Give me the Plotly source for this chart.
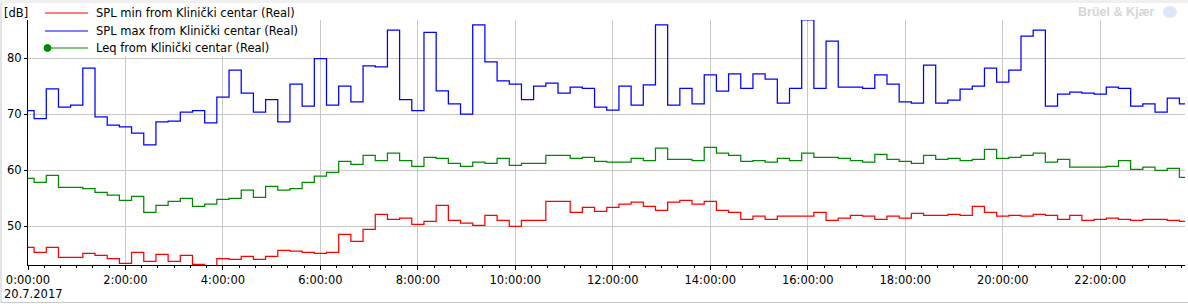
import plotly.graph_objects as go
import pandas as pd

# ---------------- data (15-minute intervals) ----------------
SPL_MAX = [70.6, 69.2, 74.5, 71.25, 71.6, 78.2, 69.5, 68.0, 67.7, 66.6, 64.5, 68.6,
           68.75, 70.35, 70.6, 68.4, 73.0, 77.85, 73.75, 70.35, 72.55, 68.6, 75.35, 71.4,
           79.9, 71.6, 75.0, 72.15, 78.6, 78.4, 85.0, 72.55, 70.6, 84.6, 74.15, 71.8,
           70.0, 85.9, 79.3, 75.9, 75.35, 72.55, 75.0, 75.5, 73.75, 74.8, 74.6, 71.25,
           70.7, 75.0, 71.6, 75.2, 85.9, 71.6, 74.6, 71.8, 77.0, 74.1, 77.15, 74.6,
           77.15, 76.25, 71.95, 74.6, 86.8, 74.6, 83.0, 74.8, 74.8, 74.6, 77.0, 75.35,
           72.15, 71.95, 78.75, 71.95, 72.5, 74.45, 75.0, 78.2, 75.7, 77.85, 83.9, 85.0,
           71.4, 73.55, 73.9, 73.75, 73.55, 74.8, 74.6, 71.4, 71.8, 70.35, 72.85, 71.8]

LEQ = [58.5, 57.8, 59.05, 56.9, 56.9, 56.7, 56.0, 55.5, 54.6, 55.3, 52.45, 53.7,
       54.4, 54.95, 53.5, 53.9, 54.75, 54.95, 56.4, 55.1, 57.1, 56.4, 56.7, 57.8,
       58.9, 59.6, 61.55, 61.0, 62.6, 61.7, 63.0, 61.7, 60.65, 62.25, 62.1, 61.2,
       60.65, 61.4, 61.2, 62.1, 60.85, 61.2, 61.2, 62.6, 62.6, 62.1, 62.25, 61.55,
       61.4, 61.4, 62.1, 61.7, 63.9, 61.9, 61.9, 61.7, 64.05, 63.0, 62.6, 61.55,
       61.7, 61.4, 62.1, 61.7, 63.0, 62.25, 62.25, 62.1, 61.7, 61.4, 62.8, 61.9,
       61.55, 61.2, 62.6, 61.9, 62.1, 61.7, 61.9, 63.7, 62.1, 62.25, 62.6, 63.0,
       61.4, 61.9, 60.5, 60.5, 60.5, 60.65, 61.7, 60.1, 60.5, 59.95, 60.3, 58.7]

SPL_MIN = [46.2, 45.3, 46.2, 44.4, 44.4, 45.1, 44.75, 44.2, 43.35, 45.3, 43.7, 44.95,
           43.7, 44.75, 43.15, 42.9, 44.2, 44.05, 44.6, 44.05, 44.6, 45.65, 45.5, 45.3,
           45.1, 45.3, 48.5, 47.25, 49.4, 52.1, 51.2, 51.4, 50.3, 50.85, 53.7, 51.0,
           50.5, 50.1, 51.9, 51.0, 49.95, 51.0, 51.0, 54.4, 54.4, 52.45, 53.35, 52.6,
           53.35, 53.9, 54.25, 53.5, 52.8, 54.25, 54.6, 53.9, 54.4, 52.8, 52.45, 51.2,
           51.75, 51.2, 51.75, 51.75, 51.75, 52.45, 51.0, 51.4, 51.9, 51.75, 51.2, 51.75,
           51.4, 52.25, 51.9, 51.9, 52.1, 51.9, 53.5, 52.45, 51.75, 51.9, 51.75, 52.1,
           51.9, 51.2, 51.9, 51.0, 51.2, 51.4, 51.2, 51.0, 51.2, 51.2, 51.0, 50.85]

SERIES_NAMES = ["SPL min from Klinički centar (Real)",
                "SPL max from Klinički centar (Real)",
                "Leq from Klinički centar (Real)"]
TICK_HOURS = [0, 2, 4, 6, 8, 10, 12, 14, 16, 18, 20, 22]
TICK_LABELS = ["0:00:00", "2:00:00", "4:00:00", "6:00:00", "8:00:00", "10:00:00",
               "12:00:00", "14:00:00", "16:00:00", "18:00:00", "20:00:00", "22:00:00"]
Y_TICKS = [50, 60, 70, 80]
DATE_LABEL = "20.7.2017"

# ---------------- time base ----------------
times = list(pd.date_range("2017-07-19 23:52:30", periods=len(LEQ), freq="15min"))
t_plot = times + [times[-1] + pd.Timedelta(minutes=15)]   # closes the last step


def ext(vals):
    return list(vals) + [vals[-1]]


W, H = 1188, 304
ML, MR, MT, MB = 28, 3, 20, 39
PW, PH = W - ML - MR, H - MT - MB


def px(x):
    return (x - ML) / PW


def py(y):
    return (H - MB - y) / PH


FONT = "DejaVu Sans"
FS = 11.5
LW = 1.25

fig = go.Figure()
colors = {"min": "#ff0000", "max": "#0000ff", "leq": "#008a00"}
fig.add_trace(go.Scatter(x=t_plot, y=ext(SPL_MAX), mode="lines", line_shape="hv",
                         line=dict(color=colors["max"], width=LW), name=SERIES_NAMES[1],
                         hoverinfo="skip", showlegend=False))
fig.add_trace(go.Scatter(x=t_plot, y=ext(LEQ), mode="lines", line_shape="hv",
                         line=dict(color=colors["leq"], width=LW), name=SERIES_NAMES[2],
                         hoverinfo="skip", showlegend=False))
fig.add_trace(go.Scatter(x=t_plot, y=ext(SPL_MIN), mode="lines", line_shape="hv",
                         line=dict(color=colors["min"], width=LW), name=SERIES_NAMES[0],
                         hoverinfo="skip", showlegend=False))

shapes = []
annotations = []

# frame details
shapes.append(dict(type="rect", xref="paper", yref="paper", x0=px(0), x1=px(W), y0=py(0), y1=py(3),
                   fillcolor="#f0f0f0", line=dict(width=0), layer="above"))
shapes.append(dict(type="line", xref="paper", yref="paper", x0=px(1), x1=px(1), y0=py(3), y1=py(303),
                   line=dict(color="#c8c8c8", width=1), layer="above"))
shapes.append(dict(type="line", xref="paper", yref="paper", x0=px(1), x1=px(W), y0=py(302.5), y1=py(302.5),
                   line=dict(color="#c8c8c8", width=1), layer="above"))

# legend background (hides gridlines behind legend)
shapes.append(dict(type="rect", xref="paper", yref="paper", x0=px(29), x1=px(300), y0=py(19), y1=py(56),
                   fillcolor="white", line=dict(width=0), layer="above"))

leg_rows = [(13, colors["min"], SERIES_NAMES[0]),
            (31, colors["max"], SERIES_NAMES[1]),
            (48, colors["leq"], SERIES_NAMES[2])]
for yy, col, txt in leg_rows:
    shapes.append(dict(type="line", xref="paper", yref="paper", x0=px(45), x1=px(88),
                       y0=py(yy), y1=py(yy), line=dict(color=col, width=1.2), layer="above"))
    annotations.append(dict(xref="paper", yref="paper", x=px(94), y=py(yy), text=txt,
                            showarrow=False, xanchor="left", yanchor="middle",
                            font=dict(family=FONT, size=FS, color="#000")))
# Leq legend marker
shapes.append(dict(type="circle", xref="paper", yref="paper", x0=px(44), x1=px(51),
                   y0=py(44.5), y1=py(51.5), fillcolor=colors["leq"],
                   line=dict(color=colors["leq"], width=1), layer="above"))

annotations.append(dict(xref="paper", yref="paper", x=px(2), y=py(13), text="[dB]",
                        showarrow=False, xanchor="left", yanchor="middle",
                        font=dict(family=FONT, size=FS, color="#000")))
annotations.append(dict(xref="paper", yref="paper", x=px(2), y=py(294), text=DATE_LABEL,
                        showarrow=False, xanchor="left", yanchor="middle",
                        font=dict(family=FONT, size=FS, color="#000")))
annotations.append(dict(xref="paper", yref="paper", x=px(1157), y=py(12), text="<b>Brüel &amp; Kjær</b>",
                        showarrow=False, xanchor="right", yanchor="middle",
                        font=dict(family="Liberation Sans", size=12.5, color="#d6d6d6")))
shapes.append(dict(type="circle", xref="paper", yref="paper", x0=px(1163), x1=px(1177),
                   y0=py(6), y1=py(18), fillcolor="#dce8f6", line=dict(width=0), layer="above"))

fig.update_layout(
    width=W, height=H,
    margin=dict(l=ML, r=MR, t=MT, b=MB),
    paper_bgcolor="white", plot_bgcolor="white",
    font=dict(family=FONT, size=FS, color="#000"),
    showlegend=False,
    shapes=shapes,
    annotations=annotations,
    xaxis=dict(
        type="date",
        range=["2017-07-20 00:00:00", "2017-07-20 23:44:24"],
        tickmode="array",
        tickvals=[pd.Timestamp("2017-07-20") + pd.Timedelta(hours=h) for h in TICK_HOURS],
        ticktext=TICK_LABELS,
        showgrid=True, gridcolor="#c8c8c8", gridwidth=1,
        showline=True, linecolor="#000", linewidth=1,
        ticks="outside", ticklen=4, tickcolor="#000",
        zeroline=False,
        tickfont=dict(family=FONT, size=FS, color="#000"),
        minor=dict(tickmode="linear", tick0="2017-07-20 00:00:00", dtick=1200000,
                   ticks="outside", ticklen=2, tickcolor="#000", showgrid=False),
    ),
    yaxis=dict(
        range=[43.04, 86.79],
        tickmode="array", tickvals=Y_TICKS,
        showgrid=True, gridcolor="#c8c8c8", gridwidth=1,
        showline=True, linecolor="#000", linewidth=1,
        ticks="outside", ticklen=3, tickcolor="#000",
        zeroline=False,
        tickfont=dict(family=FONT, size=FS, color="#000"),
    ),
)

fig.write_html("out.html")
